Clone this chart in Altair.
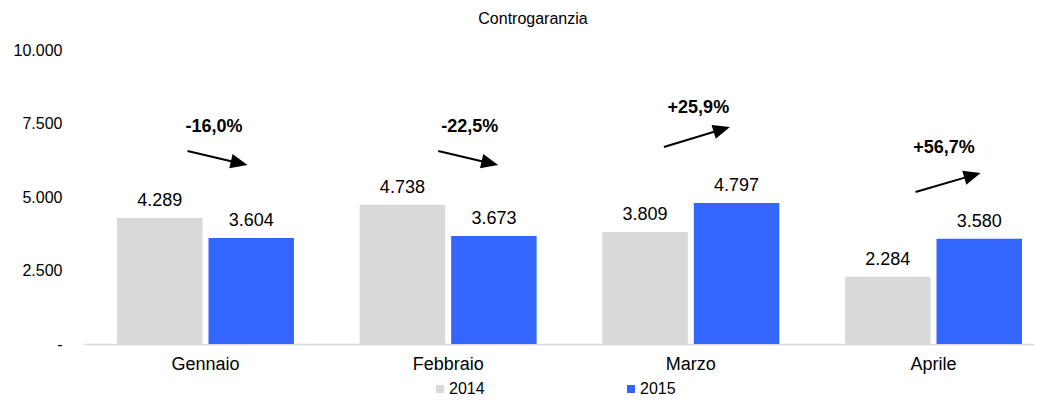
import altair as alt
import pandas as pd

months = ["Gennaio", "Febbraio", "Marzo", "Aprile"]
years = ["2014", "2015"]
values_2014 = [4289, 4738, 3809, 2284]
values_2015 = [3604, 3673, 4797, 3580]
pct_labels = ["-16,0%", "-22,5%", "+25,9%", "+56,7%"]

# annotation anchors in data units (month index, value)
arrow_start_m = [-0.074, 0.959, 1.889, 2.926]
arrow_start_v = [6565, 6565, 6701, 5170]
arrow_tip_m = [0.173, 1.206, 2.161, 3.194]
arrow_tip_v = [6088, 6088, 7381, 5816]
arrow_angle = [13.1, 13.1, 343.1, 343.7]
pct_m = [0.035, 1.089, 2.031, 3.043]
pct_v = [7381, 7381, 8027, 6667]

rows = []
for i, m in enumerate(months):
    rows.append({"month": m, "year": "2014", "value": values_2014[i]})
    rows.append({"month": m, "year": "2015", "value": values_2015[i]})
df = pd.DataFrame(rows)

arrows = pd.DataFrame({
    "x0": arrow_start_m, "y0": arrow_start_v,
    "x1": arrow_tip_m, "y1": arrow_tip_v,
    "ang": arrow_angle,
})
arrows["xe"] = arrows["x0"] + 0.85 * (arrows["x1"] - arrows["x0"])
arrows["ye"] = arrows["y0"] + 0.85 * (arrows["y1"] - arrows["y0"])
pcts = pd.DataFrame({"tx": pct_m, "ty": pct_v, "label": pct_labels})

FONT = "Liberation Sans"
W, H = 950, 294

xband = alt.Scale(domain=months, paddingInner=0.2706, paddingOuter=0.0927, align=0.733)
xoff = alt.XOffset("year:N", scale=alt.Scale(domain=years, paddingInner=0.066, paddingOuter=0))
yscale = alt.Scale(domain=[0, 10000], nice=False, zero=True)

x_axis = alt.Axis(title=None, orient="bottom", labelAngle=0, ticks=False, tickSize=0,
                  domainColor="#d9d9d9", domainWidth=1.5,
                  labelPadding=11, labelFontSize=18, labelColor="#000000",
                  labelFont=FONT)
y_axis = alt.Axis(title=None, orient="left", values=[0, 2500, 5000, 7500, 10000],
                  labelExpr="datum.value == 0 ? '-\u00a0\u00a0' : replace(format(datum.value, ','), ',', '.')",
                  domain=False, ticks=False, tickSize=0, grid=False,
                  labelPadding=22, labelFontSize=16, labelColor="#000000",
                  labelFont=FONT)

bars = alt.Chart(df).mark_bar().encode(
    x=alt.X("month:N", sort=months, scale=xband, axis=x_axis),
    xOffset=xoff,
    y=alt.Y("value:Q", scale=yscale, axis=y_axis),
    color=alt.Color("year:N", scale=alt.Scale(domain=years, range=["#d9d9d9", "#3366ff"]),
                    legend=alt.Legend(orient="none", legendX=348, legendY=331,
                                      direction="horizontal", title=None,
                                      symbolType="square", symbolSize=64,
                                      symbolStrokeWidth=0, labelFontSize=16,
                                      labelFont=FONT, labelColor="#000000",
                                      labelOffset=1, columnPadding=138)),
)

bar_labels = alt.Chart(df).mark_text(baseline="alphabetic", dy=-12, fontSize=18,
                                      font=FONT, color="#000000").encode(
    x=alt.X("month:N", sort=months, scale=xband, axis=x_axis),
    xOffset=xoff,
    y=alt.Y("value:Q", scale=yscale, axis=y_axis),
    text=alt.Text("lbl:N"),
).transform_calculate(lbl="replace(format(datum.value, ','), ',', '.')")

xq = alt.Scale(domain=[-0.5007, 3.4141], nice=False, zero=False)

arrow_lines = alt.Chart(arrows).mark_rule(color="black", strokeWidth=2).encode(
    x=alt.X("x0:Q", scale=xq, axis=None),
    x2="xe:Q",
    y=alt.Y("y0:Q", scale=yscale, axis=y_axis),
    y2="ye:Q",
)
arrow_heads = alt.Chart(arrows).mark_point(
    shape="M0,0 L-2,-0.85 L-2,0.85 Z", filled=True, color="black",
    size=289, opacity=1, strokeWidth=0).encode(
    x=alt.X("x1:Q", scale=xq, axis=None),
    y=alt.Y("y1:Q", scale=yscale, axis=y_axis),
    angle=alt.Angle("ang:Q", scale=None),
)
pct_text = alt.Chart(pcts).mark_text(fontSize=18, fontWeight="bold", font=FONT,
                                     baseline="middle", align="center",
                                     color="#000000").encode(
    x=alt.X("tx:Q", scale=xq, axis=None),
    y=alt.Y("ty:Q", scale=yscale, axis=y_axis),
    text="label:N",
)

chart = alt.layer(
    alt.layer(bars, bar_labels),
    alt.layer(arrow_lines, arrow_heads, pct_text),
).resolve_scale(x="independent").resolve_axis(x="independent").properties(
    width=W, height=H,
    title=alt.TitleParams("Controgaranzia", fontSize=16, font=FONT, fontWeight="normal",
                          color="#000000", anchor="middle", frame="group",
                          dx=-26, offset=15),
    autosize=alt.AutoSizeParams(type="none"),
    padding={"left": 76, "top": 42, "right": 0, "bottom": 53},
).configure(font=FONT).configure_view(stroke=None)

chart.save("out.html", embed_options={"renderer": "svg", "actions": False})
